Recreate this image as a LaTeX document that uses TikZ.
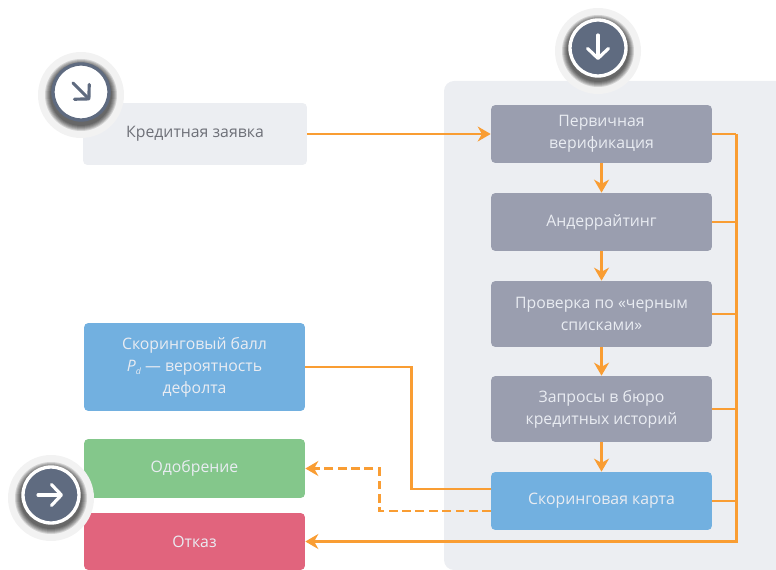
\documentclass[tikz,border=0pt]{standalone}
\usepackage{fontspec}
\setmainfont{Open Sans}
\usetikzlibrary{arrows.meta}
\definecolor{panelgray}{HTML}{ECEEF2}
\definecolor{stepgray}{HTML}{9A9EAF}
\definecolor{scoreblue}{HTML}{72B0E0}
\definecolor{okgreen}{HTML}{84C78B}
\definecolor{rejectred}{HTML}{E1647D}
\definecolor{flow}{HTML}{F99D33}
\definecolor{icondark}{HTML}{5F6B80}
\definecolor{lighttext}{HTML}{E9ECF2}
\definecolor{darktext}{HTML}{6E7078}

\begin{document}
\begin{tikzpicture}
		[x=0.02cm,y=-0.02cm,
		box/.style={rectangle,rounded corners=2.5pt,minimum width=4.42cm,inner sep=0pt,align=center,text=lighttext,
			font=\fontsize{9}{12.5}\selectfont},
		link/.style={draw=flow,line width=1.7pt},
		flowto/.style={link,-{Stealth[length=0.26cm,width=0.3cm]}},
		badge/.style={circle,minimum size=1.12cm,inner sep=0pt,line width=1.9pt},
		glyph/.style={line width=1.8pt,line cap=round,-{Straight Barb[length=0.2cm,width=0.42cm,round]}}]
		\useasboundingbox (0,0) rectangle (776,570);

		% draw the gray panel behind the steps
		\fill[panelgray] (776,81) [rounded corners=0.2cm] -- (444,81) -- (444,570) [sharp corners] -- (776,570) -- cycle;

		% draw the left column
		\node[box,fill=panelgray,text=darktext,minimum width=4.48cm,minimum height=1.24cm] (request) at (195,134) {Кредитная заявка};
		\node[box,fill=scoreblue,minimum height=1.76cm] (points) at (194.5,367) {Скоринговый балл\\\textit{P}\raisebox{-2pt}{\fontsize{5}{5}\selectfont\textit{d}} — вероятность\\дефолта};
		\node[box,fill=okgreen,minimum height=1.18cm] (approve) at (194.5,468.5) {Одобрение};
		\node[box,fill=rejectred,minimum height=1.14cm] (reject) at (194.5,541.5) {Отказ};

		% draw the steps
		\node[box,fill=stepgray,minimum height=1.16cm] (verify) at (601.5,134) {Первичная\\верификация};
		\node[box,fill=stepgray,minimum height=1.16cm] (underwrite) at (601.5,222) {Андеррайтинг};
		\node[box,fill=stepgray,minimum height=1.32cm] (blacklist) at (601.5,314) {Проверка по «черным\\списками»};
		\node[box,fill=stepgray,minimum height=1.32cm] (bureau) at (601.5,409) {Запросы в бюро\\кредитных историй};
		\node[box,fill=scoreblue,minimum height=1.16cm] (card) at (601.5,501) {Скоринговая карта};

		% points where the lines turn
		\coordinate (bustop) at (736,134);
		\coordinate (busend) at (736,541.5);
		\coordinate (cardin) at (491,489);
		\coordinate (cardout) at (491,511);

		% draw the arrows between the steps
		\draw[flowto] (request.east) -- (verify.west);
		\draw[flowto] (verify) -- (underwrite);
		\draw[flowto] (underwrite) -- (blacklist);
		\draw[flowto] (blacklist) -- (bureau);
		\draw[flowto] (bureau) -- (card);

		% draw the line on the right and what leads to it
		\draw[link] (verify.east) -- (bustop);
		\foreach \n in {underwrite,blacklist,bureau,card}
			\draw[link] (\n.east) -- (\n.east -| bustop);
		\draw[flowto] (bustop) -- (busend) -- (reject.east);

		% draw the lines of the scoring card
		\draw[link] (points.east) -| (411,489) -- (cardin);
		\draw[flowto,dashed,dash pattern=on 5pt off 2.6pt] (cardout) -| (379,468.5) -- (approve.east);

		% draw the three round signs
		\foreach \cx/\cy in {81/92,598/48,51/495}
		{
			\fill[gray!10] (\cx,\cy+3) circle [radius=43];
			\foreach \r in {31,32,33,34,35,36}
				\fill[black,opacity=0.13] (\cx,\cy+3) circle [radius=\r];
		}
		\node[badge,fill=white,draw=icondark] (signin) at (81,92) {};
		\node[badge,fill=icondark,draw=white] (signdown) at (598,48) {};
		\node[badge,fill=icondark,draw=white] (signout) at (51,495) {};
		\draw[glyph,icondark] ([shift={(-8,-9)}]signin.center) -- ([shift={(9,8)}]signin.center);
		\draw[glyph,white] ([shift={(0,-13)}]signdown.center) -- ([shift={(0,12)}]signdown.center);
		\draw[glyph,white] ([shift={(-13,0)}]signout.center) -- ([shift={(12,0)}]signout.center);
	\end{tikzpicture}
\end{document}
